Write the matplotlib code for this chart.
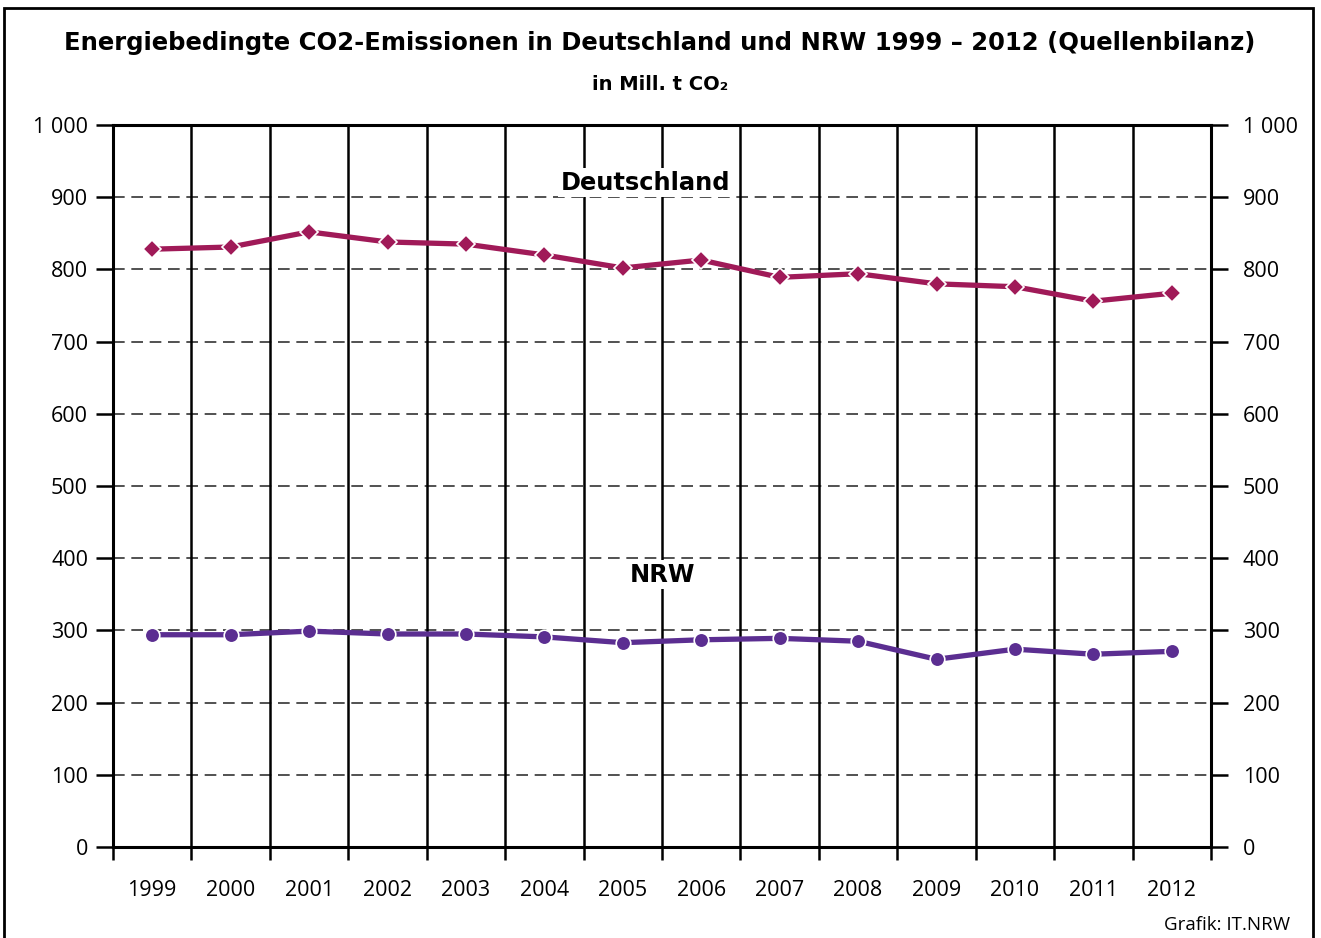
import matplotlib
matplotlib.use("Agg")
import matplotlib.pyplot as plt
from matplotlib.patches import Rectangle
from matplotlib.transforms import ScaledTranslation

plt.rcParams['font.family'] = ['Open Sans', 'DejaVu Sans']

years = ["1999", "2000", "2001", "2002", "2003", "2004", "2005",
         "2006", "2007", "2008", "2009", "2010", "2011", "2012"]
deutschland = [828, 831, 852, 838, 835, 820, 802, 813, 789, 794, 780, 776, 756, 767]
nrw = [294, 294, 299, 295, 295, 291, 283, 287, 289, 285, 260, 274, 267, 271]
y_ticks = [0, 100, 200, 300, 400, 500, 600, 700, 800, 900, 1000]
y_labels = ["0", "100", "200", "300", "400", "500", "600", "700", "800", "900", "1 000"]

col_de = "#A01A58"
col_nrw = "#5B2E91"
bold_fam = ['DejaVu Sans']

W, H = 1321, 938
fig = plt.figure(figsize=(W / 100, H / 100), dpi=100)
ax = fig.add_axes([113 / W, 1 - 847 / H, (1211 - 113) / W, (847 - 125) / H])

n = len(years)
x = list(range(n))
ax.set_xlim(-0.5, n - 0.5)
ax.set_ylim(0, 1000)

# horizontal dashed grid
for t in y_ticks[1:-1]:
    ax.axhline(t, color="#333333", lw=1.2, ls=(0, (7, 4)), zorder=1)
# vertical solid separators
for i in range(1, n):
    ax.axvline(i - 0.5, color="black", lw=1.8, zorder=2)

ax.plot(x, deutschland, color=col_de, lw=3.8, marker="D", ms=9.5,
        mfc=col_de, mec="white", mew=1.2, zorder=5, solid_joinstyle="round")
ax.plot(x, nrw, color=col_nrw, lw=3.8, marker="o", ms=10.5,
        mfc=col_nrw, mec="white", mew=1.2, zorder=5, solid_joinstyle="round")

lab_kw = dict(ha="center", va="center", fontsize=17.4, fontweight="bold", zorder=4,
              family=bold_fam, bbox=dict(facecolor="white", edgecolor="none", pad=2))
ax.text(6.29, 920, "Deutschland", **lab_kw)
ax.text(6.5, 377, "NRW", **lab_kw)

for s in ax.spines.values():
    s.set_linewidth(2.2)
    s.set_color("black")

ax.set_xticks([i - 0.5 for i in range(n + 1)])
ax.set_xticklabels([])
ax.set_xticks(x, minor=True)
ax.set_xticklabels(years, minor=True, fontsize=15.5)
ax.tick_params(axis="x", which="major", length=9, width=1.8, direction="out")
ax.tick_params(axis="x", which="minor", length=0, pad=24)

ax.set_yticks(y_ticks)
ax.set_yticklabels(y_labels, fontsize=15.5)
ax.tick_params(axis="y", which="major", length=12, width=1.8, direction="out",
               left=True, right=True, labelleft=True, labelright=True, pad=11)
shift = ScaledTranslation(7 / 100, 0, fig.dpi_scale_trans)
for tk in ax.yaxis.get_major_ticks():
    tk.label1.set_transform(tk.label1.get_transform() + shift)

fig.text(660 / W, 1 - 43 / H, "Energiebedingte CO2-Emissionen in Deutschland und NRW 1999 – 2012 (Quellenbilanz)",
         ha="center", va="center", fontsize=17.5, fontweight="bold", family=bold_fam)
fig.text(660 / W, 1 - 85 / H, "in Mill. t CO₂", ha="center", va="center",
         fontsize=14, fontweight="bold", family=bold_fam)
fig.text(1290 / W, 1 - 925 / H, "Grafik: IT.NRW", ha="right", va="center", fontsize=13.5)

fig.patches.append(Rectangle((4 / W, -0.01), (1313 - 4) / W, (938 - 8) / H + 0.01,
                             transform=fig.transFigure, fill=False, edgecolor="black",
                             lw=2, zorder=10))

fig.savefig("out.png", dpi=100)
